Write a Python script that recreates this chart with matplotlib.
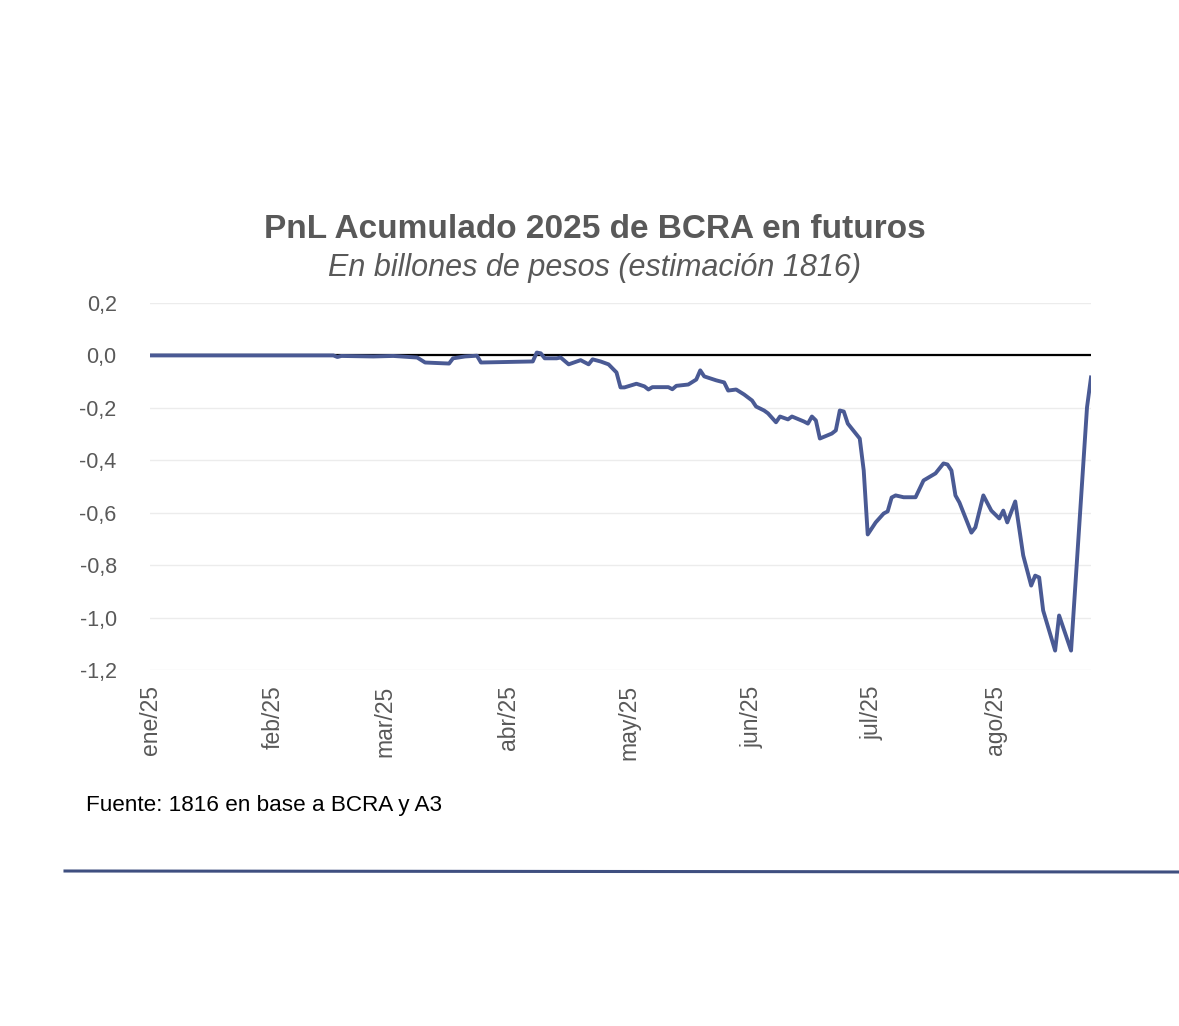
import numpy as np
import pandas as pd
import matplotlib
matplotlib.use("Agg")
import matplotlib.pyplot as plt
from matplotlib.lines import Line2D

plt.rcParams['font.family'] = ['Liberation Sans', 'DejaVu Sans']

# PnL acumulado (billones de pesos)
fechas = [
    '2025-01-01', '2025-02-16', '2025-02-17', '2025-02-18', '2025-02-26', '2025-03-03',
    '2025-03-05', '2025-03-09', '2025-03-11', '2025-03-17', '2025-03-18', '2025-03-21',
    '2025-03-24', '2025-03-25', '2025-04-07', '2025-04-08', '2025-04-09', '2025-04-10',
    '2025-04-13', '2025-04-14', '2025-04-16', '2025-04-19', '2025-04-21', '2025-04-22',
    '2025-04-24', '2025-04-26', '2025-04-28', '2025-04-29', '2025-04-30', '2025-05-03',
    '2025-05-05', '2025-05-06', '2025-05-07', '2025-05-11', '2025-05-12', '2025-05-13',
    '2025-05-16', '2025-05-18', '2025-05-19', '2025-05-20', '2025-05-23', '2025-05-25',
    '2025-05-26', '2025-05-28', '2025-05-30', '2025-06-01', '2025-06-02', '2025-06-04',
    '2025-06-05', '2025-06-07', '2025-06-08', '2025-06-10', '2025-06-11', '2025-06-14',
    '2025-06-15', '2025-06-16', '2025-06-17', '2025-06-18', '2025-06-21', '2025-06-22',
    '2025-06-23', '2025-06-24', '2025-06-25', '2025-06-26', '2025-06-28', '2025-06-29',
    '2025-06-30', '2025-07-02', '2025-07-04', '2025-07-05', '2025-07-06', '2025-07-07',
    '2025-07-09', '2025-07-12', '2025-07-14', '2025-07-17', '2025-07-19', '2025-07-20',
    '2025-07-21', '2025-07-22', '2025-07-23', '2025-07-26', '2025-07-27', '2025-07-29',
    '2025-07-31', '2025-08-02', '2025-08-03', '2025-08-04', '2025-08-06', '2025-08-08',
    '2025-08-10', '2025-08-11', '2025-08-12', '2025-08-13', '2025-08-16', '2025-08-17',
    '2025-08-20', '2025-08-24', '2025-08-25',
]
pnl = [
    0.000, 0.000, -0.006, -0.002, -0.004, -0.002,
    -0.004, -0.008, -0.027, -0.031, -0.011, -0.004,
    -0.001, -0.027, -0.023, 0.011, 0.008, -0.011,
    -0.011, -0.008, -0.034, -0.018, -0.034, -0.015,
    -0.023, -0.034, -0.065, -0.122, -0.122, -0.108,
    -0.118, -0.130, -0.121, -0.121, -0.129, -0.116,
    -0.111, -0.092, -0.057, -0.080, -0.095, -0.103,
    -0.134, -0.130, -0.149, -0.172, -0.195, -0.210,
    -0.221, -0.255, -0.233, -0.244, -0.233, -0.252,
    -0.260, -0.233, -0.248, -0.317, -0.298, -0.286,
    -0.210, -0.214, -0.260, -0.279, -0.317, -0.439,
    -0.683, -0.637, -0.603, -0.595, -0.542, -0.534,
    -0.541, -0.541, -0.477, -0.450, -0.412, -0.416,
    -0.439, -0.534, -0.561, -0.676, -0.656, -0.534,
    -0.592, -0.622, -0.592, -0.637, -0.557, -0.763,
    -0.878, -0.840, -0.847, -0.973, -1.126, -0.992,
    -1.126, -0.198, -0.084,
]

meses = ['2025-01-01', '2025-02-01', '2025-03-01', '2025-04-01',
         '2025-05-01', '2025-06-01', '2025-07-01', '2025-08-01']
meses_etiquetas = ['ene/25', 'feb/25', 'mar/25', 'abr/25',
                   'may/25', 'jun/25', 'jul/25', 'ago/25']
y_ticks = [0.2, 0.0, -0.2, -0.4, -0.6, -0.8, -1.0, -1.2]

x = pd.to_datetime(fechas)
gris = '#595959'

fig = plt.figure(figsize=(11.79, 10.26), dpi=100)
ax = fig.add_axes([150 / 1179, 1 - 670 / 1026, (1091 - 150) / 1179, (670 - 303) / 1026])

for v in y_ticks:
    ax.axhline(v, color='#ececec', lw=1, zorder=0)
ax.axhline(0, color='black', lw=1.6, zorder=2)
ax.plot(x, pnl, color='#4a5a94', lw=2.8, zorder=3, solid_joinstyle='round')

ax.set_xlim(x[0], x[-1])
ax.set_ylim(-1.2, 0.2)
ax.set_yticks(y_ticks)
ax.set_yticklabels([f'{v:.1f}'.replace('.', ',') for v in y_ticks])
ax.set_xticks(pd.to_datetime(meses))
ax.set_xticklabels(meses_etiquetas, rotation=90)
ax.tick_params(axis='both', length=0, colors=gris, labelsize=15.5)
ax.tick_params(axis='x', labelsize=16.5, pad=11)
ax.tick_params(axis='y', pad=24)
for s in ax.spines.values():
    s.set_visible(False)

fig.text(595 / 1179, 1 - 230 / 1026, 'PnL Acumulado 2025 de BCRA en futuros',
         ha='center', va='center', fontsize=24, fontweight='bold', color=gris)
fig.text(595 / 1179, 1 - 268 / 1026, 'En billones de pesos (estimación 1816)',
         ha='center', va='center', fontsize=22, style='italic', color=gris)
fig.text(86 / 1179, 1 - 805 / 1026, 'Fuente: 1816 en base a BCRA y A3',
         ha='left', va='center', fontsize=16.2, color='black')

fig.add_artist(Line2D([65 / 1179, 1.0], [1 - 871 / 1026, 1 - 872 / 1026],
                      transform=fig.transFigure, color='#3f4f80', lw=2.2))

fig.savefig('out.png', dpi=100, facecolor='white')
